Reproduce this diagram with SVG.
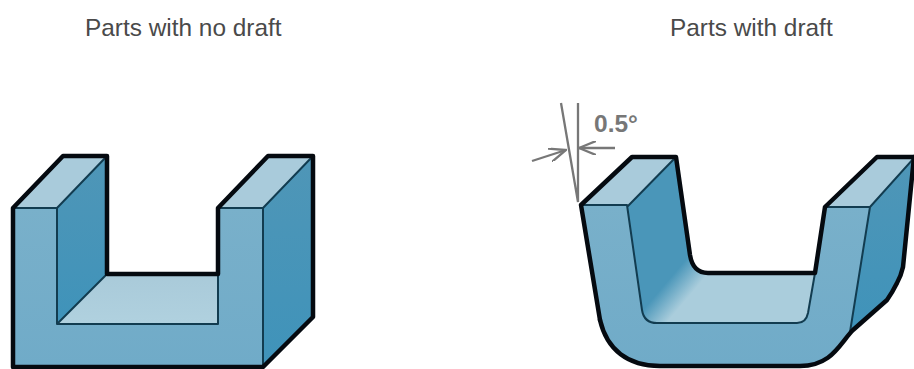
<svg xmlns="http://www.w3.org/2000/svg" width="914" height="369" viewBox="0 0 914 369">
<style>
.t{font-family:"Liberation Sans",Arial,sans-serif;font-size:24.4px;fill:#4a4a4a}
.o{fill:none;stroke:#050a10;stroke-width:4.5;stroke-linejoin:round;stroke-linecap:round}
.i{fill:none;stroke:#123c50;stroke-width:2;stroke-linejoin:round}
.d{fill:none;stroke:#777;stroke-width:2.3}
</style>
<defs>
<linearGradient id="fr" x1="0" y1="0" x2="0" y2="1"><stop offset="0" stop-color="#79b0ca"/><stop offset="1" stop-color="#70abc8"/></linearGradient>
<linearGradient id="si" x1="0" y1="0" x2="0" y2="1"><stop offset="0" stop-color="#4f96b7"/><stop offset="1" stop-color="#3f93ba"/></linearGradient>
<linearGradient id="fl" x1="0" y1="0" x2="0" y2="1"><stop offset="0" stop-color="#a9cad9"/><stop offset="1" stop-color="#b0d1df"/></linearGradient>
<linearGradient id="bl" gradientUnits="userSpaceOnUse" x1="660" y1="290" x2="680" y2="307"><stop offset="0" stop-color="#4a96b9"/><stop offset="1" stop-color="#aacddc"/></linearGradient>
<marker id="a" viewBox="0 0 18 14" refX="17" refY="7" markerWidth="18" markerHeight="14" orient="auto" markerUnits="userSpaceOnUse"><path d="M0 0L17 7L0 14" fill="none" stroke="#777" stroke-width="2.3"/></marker>
</defs>
<g id="title-left"><text class="t" x="85" y="36">Parts with no draft</text></g>
<g id="title-right"><text class="t" x="670" y="36">Parts with draft</text></g>
<g id="part-no-draft">
<path d="M13 208L63 156H107L57 208Z" fill="#a9cbdb"/>
<path d="M218 208L268 156H313L263 208Z" fill="#a9cbdb"/>
<path d="M57 208L107 156V274L57 324Z" fill="url(#si)"/>
<path d="M263 208L313 156V317L263 367Z" fill="url(#si)"/>
<path d="M57 324L107 274H218V324Z" fill="url(#fl)"/>
<path d="M13 208H57V324H218V208H263V367H13Z" fill="url(#fr)"/>
<path class="i" d="M13 208H57V324H218V274M57 208L107 156M218 208H263L313 156M263 208V367M57 324L107 274"/>
<path class="o" d="M13 367V208L63 156H107V274H218V208L268 156H313V317L263 367H13Z"/>
</g>
<g id="part-with-draft">
<path d="M581 205L632 157H676L627 207Z" fill="#a9cbdb"/>
<path d="M825 207L877 157H915L870 207Z" fill="#a9cbdb"/>
<path d="M627 207L676 157L690 255Q693 273 708 273H815L808 313Q806 323 797 323H657Q644 323 642 310Z" fill="url(#bl)"/>
<path d="M870 207L915 157L903 267Q901 276 897 283Q892 293 887 300L850 332Z" fill="url(#si)"/>
<path d="M581 205H627L642 310Q644 323 657 323H797Q806 323 808 313L815 273L825 207H870L850 332C838 345 832 366 800 366H660C628 366 607 350 600 320Z" fill="url(#fr)"/>
<path class="i" d="M581 205H627L642 310Q644 323 657 323H797Q806 323 808 313L815 273L825 207H870L915 157M627 207L676 157M870 207L850 332"/>
<path class="o" d="M600 320L581 205L632 157H676L690 255Q693 273 708 273H815L825 207L877 157H914"/>
<path class="o" d="M914 157L903 267Q901 276 897 283Q892 293 887 300L853 330C840 343 832 366 800 366H660C628 366 607 350 600 320"/>
</g>
<g id="dimension">
<path class="d" d="M561 103L578 202V103"/>
<path class="d" d="M532 161L566 150" marker-end="url(#a)"/>
<path class="d" d="M615 148H579" marker-end="url(#a)"/>
<text x="594" y="132" font-family="'Liberation Sans',Arial,sans-serif" font-size="24.5" font-weight="700" fill="#777">0.5°</text>
</g>
</svg>
